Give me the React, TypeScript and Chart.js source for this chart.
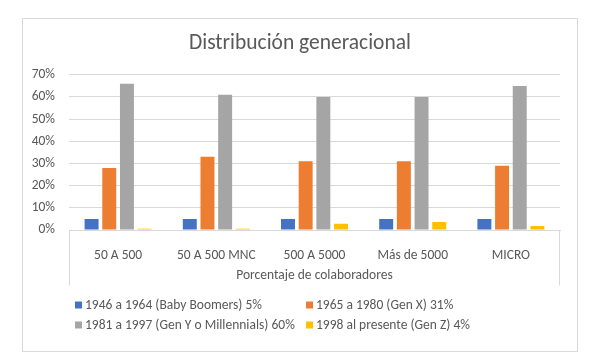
import React, { useEffect, useRef } from "react";
import { Chart, registerables } from "chart.js";

Chart.register(...registerables);

const categories = ["50 A 500", "50 A 500 MNC", "500 A 5000", "Más de 5000", "MICRO"];
const babyBoomers = [5, 5, 5, 5, 5];
const genX = [28, 33, 31, 31, 29];
const genY = [66, 61, 60, 60, 65];
const genZ = [0.6, 0.6, 2.8, 3.6, 1.8];
const seriesLabels = [
  "1946 a 1964 (Baby Boomers) 5%",
  "1965 a 1980 (Gen X) 31%",
  "1981 a 1997 (Gen Y o Millennials) 60%",
  "1998 al presente (Gen Z) 4%",
];
const seriesColors = ["#4472C4", "#ED7D31", "#A5A5A5", "#FFC000"];
const yTicks = [0, 10, 20, 30, 40, 50, 60, 70];

const FONT = "Carlito, Lato, 'Open Sans', sans-serif";
const TEXT = "#595959";
const LINE = "#d9d9d9";
const FS = 13.5;

const framePlugin = {
  id: "frame",
  afterDraw(chart: any) {
    const { ctx, chartArea } = chart;
    ctx.save();
    // outer chart border
    ctx.strokeStyle = LINE;
    ctx.lineWidth = 1;
    ctx.strokeRect(22.5, 18.5, 555, 333);
    // category box side lines
    const yb = Math.round(chartArea.bottom) + 0.5;
    const l = Math.round(chartArea.left) + 0.5;
    const r = Math.round(chartArea.right) - 0.5;
    ctx.beginPath();
    ctx.moveTo(l, yb);
    ctx.lineTo(l, yb + 55);
    ctx.moveTo(r, yb);
    ctx.lineTo(r, yb + 55);
    ctx.stroke();
    // legend
    ctx.font = `${FS}px ${FONT}`;
    ctx.textBaseline = "middle";
    ctx.textAlign = "left";
    const datasets = chart.data.datasets;
    const colStart = chartArea.left + 6;
    const col2 = chartArea.left + 237;
    const rowY = [chartArea.bottom + 75, chartArea.bottom + 95];
    for (let row = 0; row < 2; row++) {
      let x = colStart;
      for (let c = 0; c < 2; c++) {
        const ds = datasets[row * 2 + c];
        if (!ds) continue;
        if (c === 1) x = Math.max(col2, x);
        const y = rowY[row];
        ctx.fillStyle = ds.backgroundColor;
        ctx.fillRect(x, y - 3.5, 7, 7);
        ctx.fillStyle = TEXT;
        ctx.fillText(ds.label, x + 10, y + 0.5);
        x = x + 10 + ctx.measureText(ds.label).width + 9;
      }
    }
    ctx.restore();
  },
};

export default function App() {
  const ref = useRef<HTMLCanvasElement>(null);
  useEffect(() => {
    if (!ref.current) return;
    const seriesData = [babyBoomers, genX, genY, genZ];
    const chart = new Chart(ref.current, {
      type: "bar",
      data: {
        labels: categories,
        datasets: seriesData.map((d, i) => ({
          label: seriesLabels[i],
          data: d,
          backgroundColor: seriesColors[i],
          borderWidth: 0,
          categoryPercentage: 0.72,
          barPercentage: 0.79,
        })),
      },
      options: {
        responsive: false,
        animation: false,
        devicePixelRatio: 1,
        layout: { padding: { left: 22, right: 22, top: 18, bottom: 74 } },
        plugins: {
          legend: { display: false },
          tooltip: { enabled: false },
          title: {
            display: true,
            text: "Distribución generacional",
            color: TEXT,
            font: { family: FONT, size: 21.5, weight: "normal" },
            padding: { top: 13, bottom: 18 },
          },
        },
        scales: {
          x: {
            grid: { display: false },
            border: { display: true, color: LINE, width: 1 },
            ticks: { color: TEXT, font: { family: FONT, size: FS }, padding: 10 },
            title: {
              display: true,
              text: "Porcentaje de colaboradores",
              color: TEXT,
              font: { family: FONT, size: FS },
              padding: { top: 0, bottom: 6 },
            },
            afterFit: (s: any) => {
              s.height = 60;
            },
          },
          y: {
            min: 0,
            max: 70,
            afterBuildTicks: (s: any) => {
              s.ticks = yTicks.map((v) => ({ value: v }));
            },
            grid: { color: LINE, drawTicks: false },
            border: { display: false },
            ticks: {
              color: TEXT,
              font: { family: FONT, size: FS },
              padding: 14,
              callback: (v: any) => `${v}%`,
            },
            afterFit: (s: any) => {
              s.width = 47;
            },
          },
          yRight: {
            position: "right",
            display: true,
            grid: { display: false },
            border: { display: false },
            ticks: { display: false },
            afterFit: (s: any) => {
              s.width = 18;
            },
          },
        },
      },
      plugins: [framePlugin],
    });
    return () => chart.destroy();
  }, []);
  return (
    <div style={{ position: "fixed", left: 0, top: 0, width: 600, height: 364, background: "#fff" }}>
      <canvas ref={ref} width={600} height={364} style={{ display: "block" }} />
    </div>
  );
}
